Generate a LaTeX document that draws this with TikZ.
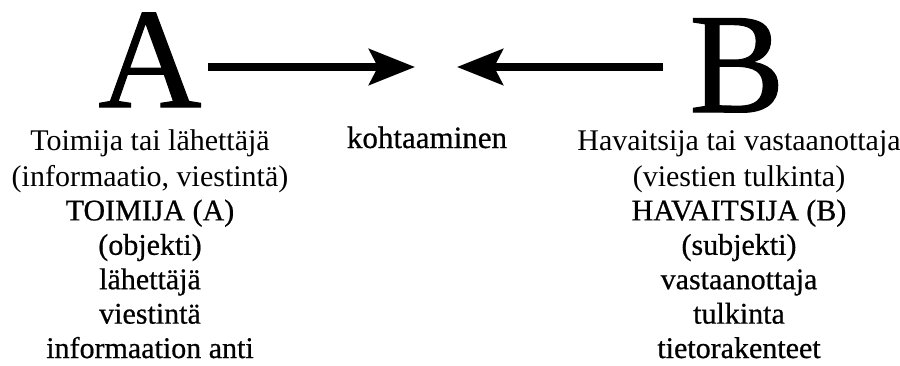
\documentclass[tikz,border=0pt]{standalone}
\usepackage{fontspec}
\setmainfont{Liberation Serif}
\newfontfamily\heavyserif{Liberation Serif}[FakeBold=0.6]
\newfontfamily\letterserif{Liberation Serif}[FakeBold=0.8]
\usetikzlibrary{arrows.meta}
\begin{document}
\begin{tikzpicture}[x=1pt,y=1pt,
  bigletter/.style={inner sep=0pt, anchor=base, text height=98pt, text depth=0pt,
    font=\letterserif\fontsize{143}{143}\selectfont},
  rowtext/.style={inner sep=0pt, anchor=base, font=\fontsize{30}{34}\selectfont},
  heavyrow/.style={rowtext, font=\heavyserif\fontsize{30}{34}\selectfont},
  flowarrow/.style={line width=7.5pt, -{Stealth[length=46pt, width=36pt, inset=9pt]}}]
\useasboundingbox (0,0) rectangle (900,365);
% the two parties
\node[bigletter] (A) at (150,258) {A};
\node[bigletter] (B) at (737,253) {B};
% arrows meeting in the middle
\coordinate (aend) at (208,298);
\coordinate (atip) at (415,298);
\coordinate (bend) at (663,298);
\coordinate (btip) at (457,298);
\draw[flowarrow] (aend) -- (atip);
\draw[flowarrow] (bend) -- (btip);
\node[heavyrow, font=\heavyserif\fontsize{31}{34}\selectfont] (k) at (427,217) {kohtaaminen};
% left column
\node[rowtext] (L1) at (150,215) {Toimija tai lähettäjä};
\node[rowtext] (L2) at (150,179) {(informaatio, viestintä)};
\foreach \t [count=\i from 3] in {TOIMIJA (A),(objekti),lähettäjä,viestintä,informaation anti}
  \node[heavyrow] (L\i) at (150,{179-(\i-2)*34.4}) {\t};
% right column
\node[rowtext] (R1) at (739,215) {Havaitsija tai vastaanottaja};
\node[rowtext] (R2) at (739,179) {(viestien tulkinta)};
\foreach \t [count=\i from 3] in {HAVAITSIJA (B),(subjekti),vastaanottaja,tulkinta,tietorakenteet}
  \node[heavyrow] (R\i) at (739,{179-(\i-2)*34.4}) {\t};
\end{tikzpicture}
\end{document}
